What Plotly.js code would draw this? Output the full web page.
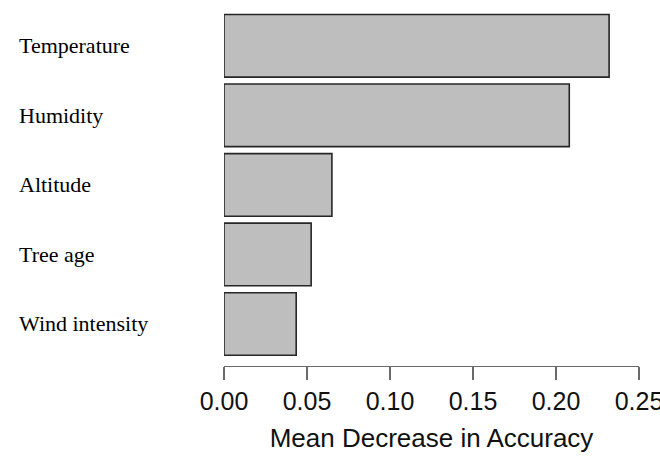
<!DOCTYPE html>
<html>
<head>
<meta charset="utf-8">
<script src="https://cdn.plot.ly/plotly-3.0.1.min.js"></script>
<style>html,body{margin:0;padding:0;background:#fff;}#chart{width:660px;height:459px;}</style>
</head>
<body>
<div id="chart"></div>
<script>
// Variable importance (top to bottom)
const categories = ["Temperature", "Humidity", "Altitude", "Tree age", "Wind intensity"];
const values = [0.232, 0.208, 0.065, 0.0525, 0.0435];
const tickVals = [0, 0.05, 0.10, 0.15, 0.20, 0.25];
const tickText = ["0.00", "0.05", "0.10", "0.15", "0.20", "0.25"];
const xTitle = "Mean Decrease in Accuracy";

const trace = {
  type: "bar",
  orientation: "h",
  y: categories,
  x: values,
  marker: { color: "#bebebe", line: { color: "#262626", width: 1.6 } },
  width: 0.9,
  hoverinfo: "x+y"
};

const annotations = categories.map(c => ({
  text: c,
  xref: "paper",
  yref: "y",
  x: (17 - 224) / 415,
  y: c,
  xanchor: "left",
  yanchor: "middle",
  showarrow: false,
  font: { family: "Liberation Serif, Times New Roman, serif", size: 22, color: "#000" }
}));

const layout = {
  width: 660,
  height: 459,
  margin: { l: 224, r: 21, t: 11, b: 93 },
  paper_bgcolor: "#fff",
  plot_bgcolor: "#fff",
  showlegend: false,
  bargap: 0.1,
  xaxis: {
    range: [0, 0.25],
    tickvals: tickVals,
    ticktext: tickText,
    ticklabeloverflow: "allow",
    showgrid: false,
    zeroline: false,
    showline: true,
    linecolor: "#6a6a6a",
    linewidth: 1.2,
    ticks: "outside",
    ticklen: 13,
    tickwidth: 1.2,
    tickcolor: "#6a6a6a",
    tickfont: { family: "Liberation Sans, Arial, sans-serif", size: 25, color: "#111" },
    title: { text: xTitle, font: { family: "Liberation Sans, Arial, sans-serif", size: 26, color: "#111" }, standoff: 14 },
    fixedrange: true
  },
  yaxis: {
    type: "category",
    categoryorder: "array",
    categoryarray: categories,
    range: [4.604, -0.5],
    showticklabels: false,
    showgrid: false,
    zeroline: false,
    showline: false,
    ticks: "",
    fixedrange: true
  },
  annotations: annotations
};

Plotly.newPlot("chart", [trace], layout, { displayModeBar: false, staticPlot: true });
</script>
</body>
</html>
